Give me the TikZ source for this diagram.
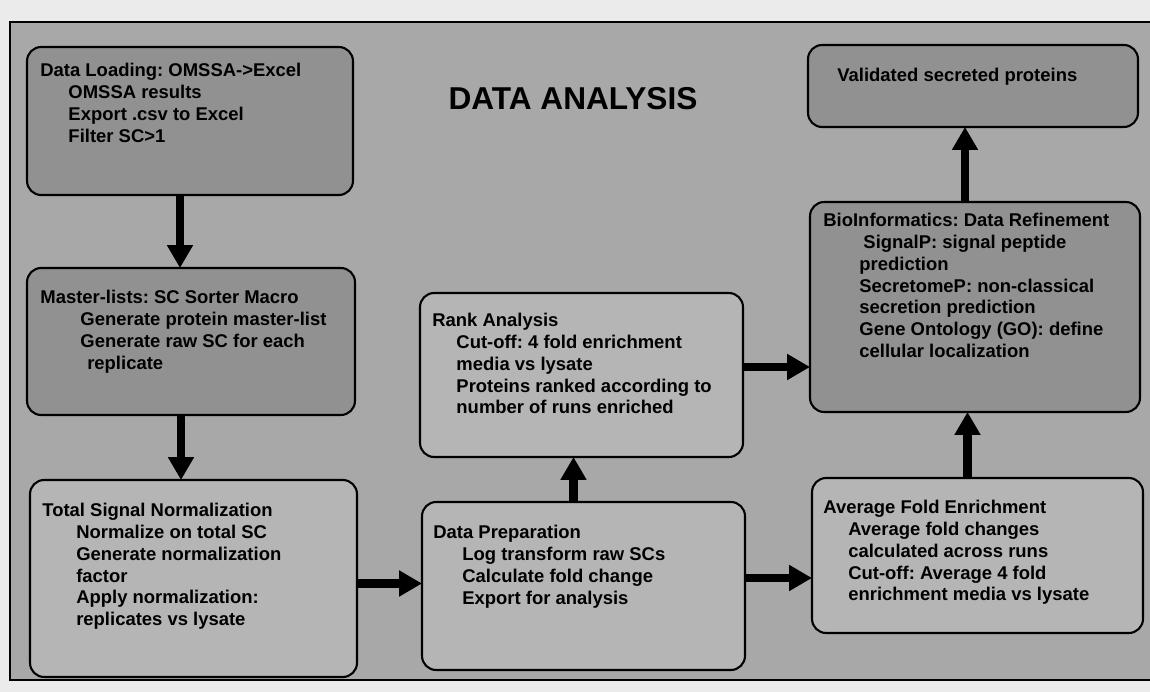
\documentclass[tikz,border=0pt]{standalone}
\usepackage{fontspec}
\setmainfont{Liberation Sans}
\usetikzlibrary{arrows.meta, positioning, calc}

\definecolor{esterno}{gray}{0.92}
\definecolor{sfondo}{gray}{0.66}
\definecolor{scuro}{gray}{0.57}
\definecolor{chiaro}{gray}{0.71}

\tikzset{
    blocco/.style={draw, line width=1.2pt, rounded corners=8pt, inner sep=0pt, outer sep=0pt},
    testo/.style={anchor=north west, inner sep=0pt, align=left, font=\bfseries\frenchspacing\fontsize{10.5}{12.4}\selectfont},
    freccia/.style={line width=5pt, -{Triangle[length=13pt, width=14pt]}},
}

\begin{document}
\begin{tikzpicture}[x=0.02cm, y=-0.02cm]
    \useasboundingbox (0,0) rectangle (1150,692);
    \fill[esterno] (0,0) rectangle (1150,692);

    % Cornice
    \draw[line width=1.2pt, fill=sfondo] (10,22) rectangle (1170,680);
    \node[font=\bfseries\fontsize{18}{20}\selectfont] (titolo) at (573,99) {DATA ANALYSIS};

    % Colonna sinistra
    \node[blocco, fill=scuro, minimum width=6.52cm, minimum height=2.96cm] (load) at (190,121) {};
    \node[blocco, fill=scuro, minimum width=6.56cm, minimum height=2.94cm] (master) at (191,341.5) {};
    \node[blocco, fill=chiaro, minimum width=6.54cm, minimum height=3.94cm] (norm) at (193.5,578.5) {};

    \node[testo] (t-load) at ($(load.north west)+(13,16)$) {Data Loading: OMSSA->Excel\\
        \hspace*{16pt}OMSSA results\\
        \hspace*{16pt}Export .csv to Excel\\
        \hspace*{16pt}Filter SC>1};
    \node[testo] (t-master) at ($(master.north west)+(13,22)$) {Master-lists: SC Sorter Macro\\
        \hspace*{22.8pt}Generate protein master-list\\
        \hspace*{22.8pt}Generate raw SC for each\\
        \hspace*{26.7pt}replicate};
    \node[testo] (t-norm) at ($(norm.north west)+(12,23)$) {Total Signal Normalization\\
        \hspace*{19.3pt}Normalize on total SC\\
        \hspace*{19.3pt}Generate normalization\\
        \hspace*{19.3pt}factor\\
        \hspace*{19.3pt}Apply normalization:\\
        \hspace*{19.3pt}replicates vs lysate};

    % Colonna centrale
    \node[blocco, fill=chiaro, minimum width=6.46cm, minimum height=3.28cm] (rank) at (581.5,375) {};
    \node[blocco, fill=chiaro, minimum width=6.46cm, minimum height=3.36cm] (prep) at (583.5,586) {};

    \node[testo] (t-rank) at ($(rank.north west)+(12,20)$) {Rank Analysis\\
        \hspace*{13.7pt}Cut-off: 4 fold enrichment\\
        \hspace*{13.7pt}media vs lysate\\
        \hspace*{13.7pt}Proteins ranked according to\\
        \hspace*{13.7pt}number of runs enriched};
    \node[testo] (t-prep) at ($(prep.north west)+(11,23)$) {Data Preparation\\
        \hspace*{16.5pt}Log transform raw SCs\\
        \hspace*{16.5pt}Calculate fold change\\
        \hspace*{16.5pt}Export for analysis};

    % Colonna destra
    \node[blocco, fill=scuro, minimum width=6.6cm, minimum height=1.64cm] (valid) at (973,86) {};
    \node[blocco, fill=scuro, minimum width=6.6cm, minimum height=4.2cm] (bioinf) at (975,307) {};
    \node[blocco, fill=chiaro, minimum width=6.62cm, minimum height=3.1cm] (fold) at (977.5,555.5) {};

    \node[testo] (t-valid) at ($(valid.north west)+(29,23)$) {Validated secreted proteins};
    \node[testo] (t-bioinf) at ($(bioinf.north west)+(13,11)$) {BioInformatics: Data Refinement\\
        \hspace*{22.8pt}SignalP: signal peptide\\
        \hspace*{20.5pt}prediction\\
        \hspace*{20.5pt}SecretomeP: non-classical\\
        \hspace*{20.5pt}secretion prediction\\
        \hspace*{20.5pt}Gene Ontology (GO): define\\
        \hspace*{20.5pt}cellular localization};
    \node[testo] (t-fold) at ($(fold.north west)+(11,22)$) {Average Fold Enrichment\\
        \hspace*{14.2pt}Average fold changes\\
        \hspace*{14.2pt}calculated across runs\\
        \hspace*{14.2pt}Cut-off: Average 4 fold\\
        \hspace*{14.2pt}enrichment media vs lysate};

    % Frecce
    \draw[freccia] ([xshift=-2mm]load.south) -- ([xshift=-2mm]load.south |- master.north);
    \draw[freccia] ([xshift=-2mm]master.south) -- ([xshift=-2mm]master.south |- norm.north);
    \draw[freccia] ([yshift=-1mm]norm.east) -- ([yshift=-1mm]norm.east -| prep.west);
    \draw[freccia] ([xshift=-2mm]prep.north) -- ([xshift=-2mm]prep.north |- rank.south);
    \draw[freccia] ([yshift=1.6mm]rank.east) -- ([yshift=1.6mm]rank.east -| bioinf.west);
    \draw[freccia] ([yshift=1.6mm]prep.east) -- ([yshift=1.6mm]prep.east -| fold.west);
    \draw[freccia] ([xshift=-2mm]fold.north) -- ([xshift=-2mm]fold.north |- bioinf.south);
    \draw[freccia] ([xshift=-2mm]bioinf.north) -- ([xshift=-2mm]bioinf.north |- valid.south);
\end{tikzpicture}
\end{document}
